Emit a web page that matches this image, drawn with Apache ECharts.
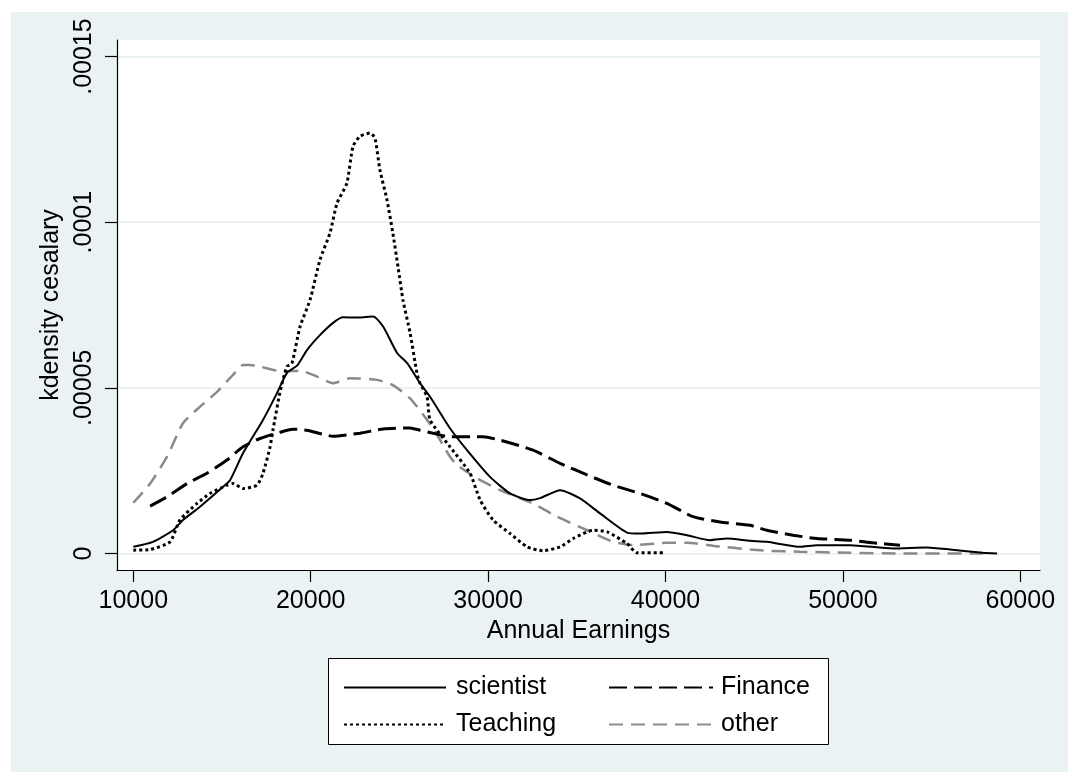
<!DOCTYPE html>
<html>
<head>
<meta charset="utf-8">
<script src="https://cdn.jsdelivr.net/npm/echarts@6/dist/echarts.min.js"></script>
<style>
html,body{margin:0;padding:0;background:#fff;}
#chart{width:1068px;height:772px;}
</style>
</head>
<body>
<div id="chart"></div>
<script>
// ---- data ----
const xTickValues = [10000, 20000, 30000, 40000, 50000, 60000];
const yTickValues = [0, 0.00005, 0.0001, 0.00015];
const yTickLabels = ['0', '.00005', '.0001', '.00015'];

const scientistX = [10000,11110,12240,12800,13760,15060,15450,16190,17310,18100,18660,19230,19790,20520,21260,21820,22670,23520,24080,24870,25430,26160,26730,27850,28810,30110,31240,32360,32930,34060,35180,36310,37830,38560,40080,41210,42510,43460,44760,45720,47580,48540,50400,52820,54740,56040,57900,58690];
const scientistY = [2.0e-6,3.5e-6,7.0e-6,1.01e-5,1.41e-5,2.01e-5,2.21e-5,3.03e-5,4.03e-5,4.84e-5,5.45e-5,5.67e-5,6.14e-5,6.59e-5,6.96e-5,7.13e-5,7.12e-5,7.15e-5,6.85e-5,6.05e-5,5.75e-5,5.14e-5,4.73e-5,3.78e-5,3.12e-5,2.31e-5,1.81e-5,1.61e-5,1.67e-5,1.91e-5,1.66e-5,1.21e-5,6.3e-6,6.0e-6,6.5e-6,5.5e-6,4.0e-6,4.5e-6,3.8e-6,3.5e-6,2.0e-6,2.5e-6,2.5e-6,1.5e-6,1.8e-6,1.2e-6,2e-7,0];

const financeX = [10950,11900,13030,14150,15280,16190,17140,18100,19000,19790,21260,22770,24080,25600,26160,26900,27850,29710,30670,32530,34060,35580,37050,38560,40080,41550,43070,44760,45720,47190,48540,50400,51700,53220];
const financeY = [1.43e-5,1.71e-5,2.11e-5,2.42e-5,2.82e-5,3.22e-5,3.47e-5,3.63e-5,3.75e-5,3.72e-5,3.54e-5,3.63e-5,3.76e-5,3.79e-5,3.72e-5,3.63e-5,3.52e-5,3.52e-5,3.42e-5,3.12e-5,2.72e-5,2.37e-5,2.06e-5,1.81e-5,1.51e-5,1.11e-5,9.5e-6,8.5e-6,7.0e-6,5.5e-6,4.5e-6,4.0e-6,3.2e-6,2.5e-6];

const teachingX = [10000,10950,12070,12630,13590,14320,15280,15620,16190,16970,17310,17710,17870,18270,18660,18940,19400,19960,20520,21090,21480,22040,22380,22770,23340,23620,23900,24300,24630,24920,25200,25600,25990,26160,26560,26730,27850,28980,29550,30280,31240,32200,33100,34060,34790,35920,36710,37830,38390,39860];
const teachingY = [1.0e-6,1.2e-6,3.5e-6,1.01e-5,1.51e-5,1.81e-5,2.06e-5,2.11e-5,1.96e-5,2.06e-5,2.42e-5,3.22e-5,3.72e-5,4.87e-5,5.64e-5,5.74e-5,6.85e-5,7.65e-5,8.86e-5,9.68e-5,1.057e-4,1.118e-4,1.228e-4,1.259e-4,1.269e-4,1.254e-4,1.158e-4,1.067e-4,9.67e-5,8.66e-5,7.65e-5,6.66e-5,5.44e-5,5.14e-5,4.73e-5,4.03e-5,3.22e-5,2.42e-5,1.61e-5,1.01e-5,6.0e-6,2.0e-6,8e-7,2.0e-6,4.5e-6,7.0e-6,6.5e-6,3.0e-6,2e-7,2e-7];

const otherX = [10000,10950,11900,12800,13760,14720,15620,16190,16580,17140,18440,19400,20350,21260,22220,23730,24630,25600,26560,26900,27850,28250,29370,30670,32530,33880,35580,37050,38180,40080,41210,42900,44760,45720,47580,50400,53220,57900];
const otherY = [1.53e-5,2.11e-5,2.92e-5,3.93e-5,4.43e-5,4.88e-5,5.39e-5,5.69e-5,5.69e-5,5.64e-5,5.49e-5,5.52e-5,5.34e-5,5.14e-5,5.29e-5,5.24e-5,5.08e-5,4.68e-5,4.03e-5,3.78e-5,2.92e-5,2.67e-5,2.27e-5,1.91e-5,1.51e-5,1.11e-5,7.0e-6,3.5e-6,2.5e-6,3.2e-6,3.2e-6,2.2e-6,1.2e-6,8e-7,5e-7,2e-7,0,0];

const pairs = (xs, ys) => xs.map((x, i) => [x, ys[i]]);

const FONT = 'Liberation Sans, Arial, Helvetica, sans-serif';
const BG = '#eaf2f3';

const chart = echarts.init(document.getElementById('chart'), null, {renderer: 'canvas'});

const lineSeries = (name, xs, ys, style, z) => ({
  name: name,
  type: 'line',
  data: pairs(xs, ys),
  symbol: 'none',
  showSymbol: false,
  smooth: 0.2,
  z: z,
  lineStyle: style,
  itemStyle: {color: style.color},
  emphasis: {disabled: true},
  animation: false
});

const option = {
  backgroundColor: BG,
  animation: false,
  textStyle: {fontFamily: FONT},
  graphic: [
    {type: 'rect', shape: {x: 0, y: 0, width: 1068, height: 12}, style: {fill: '#ffffff'}, z: 100, silent: true},
    {type: 'rect', shape: {x: 0, y: 0, width: 11, height: 772}, style: {fill: '#ffffff'}, z: 100, silent: true},
    {type: 'rect', shape: {x: 328.5, y: 658.5, width: 500, height: 86}, style: {fill: '#ffffff', stroke: '#000', lineWidth: 1}, z: 0, silent: true}
  ],
  grid: {
    left: 117, top: 40, right: 28, bottom: 202,
    show: true, backgroundColor: '#ffffff', borderWidth: 0
  },
  legend: [
    {
      data: ['scientist', 'Teaching'],
      orient: 'vertical',
      left: 338, top: 670,
      itemWidth: 102, itemHeight: 25, itemGap: 12,
      selectedMode: false,
      itemStyle: {opacity: 0},
      textStyle: {fontFamily: FONT, fontSize: 25, color: '#000', padding: [0, 0, 0, 5]},
      z: 5
    },
    {
      data: ['Finance', 'other'],
      orient: 'vertical',
      left: 603, top: 670,
      itemWidth: 104, itemHeight: 25, itemGap: 12,
      selectedMode: false,
      itemStyle: {opacity: 0},
      textStyle: {fontFamily: FONT, fontSize: 25, color: '#000', padding: [0, 0, 0, 3]},
      z: 5
    }
  ],
  xAxis: {
    type: 'value',
    min: 9080, max: 61110,
    name: 'Annual Earnings',
    nameLocation: 'middle',
    nameGap: 46,
    nameTextStyle: {fontFamily: FONT, fontSize: 25, color: '#000'},
    axisLine: {show: true, onZero: false, lineStyle: {color: '#000', width: 1.2}},
    axisTick: {show: true, length: 12, lineStyle: {color: '#000', width: 1.2}, customValues: xTickValues},
    axisLabel: {fontFamily: FONT, fontSize: 25, color: '#000', margin: 19, customValues: xTickValues,
      formatter: v => String(v)},
    splitLine: {show: false}
  },
  yAxis: {
    type: 'value',
    min: -0.000005, max: 0.000155,
    name: 'kdensity cesalary',
    nameLocation: 'middle',
    nameGap: 40,
    nameRotate: 90,
    nameTextStyle: {fontFamily: FONT, fontSize: 25, color: '#000'},
    axisLine: {show: true, onZero: false, lineStyle: {color: '#000', width: 1.2}},
    axisTick: {show: true, length: 12, lineStyle: {color: '#000', width: 1.2}, customValues: yTickValues},
    axisLabel: {fontFamily: FONT, fontSize: 25, color: '#000', rotate: 90, margin: 20, customValues: yTickValues,
      formatter: v => { const i = yTickValues.findIndex(t => Math.abs(t - v) < 1e-9); return i >= 0 ? yTickLabels[i] : ''; }},
    splitLine: {show: true, lineStyle: {color: BG, width: 2}}
  },
  series: [
    lineSeries('scientist', scientistX, scientistY, {color: '#000', width: 2, type: 'solid'}, 4),
    lineSeries('Finance', financeX, financeY, {color: '#000', width: 3, type: [18, 7]}, 3),
    lineSeries('Teaching', teachingX, teachingY, {color: '#000', width: 3, type: [3, 3]}, 5),
    lineSeries('other', otherX, otherY, {color: '#8a8a8a', width: 2.5, type: [14, 8]}, 2)
  ]
};

chart.setOption(option);
</script>
</body>
</html>
